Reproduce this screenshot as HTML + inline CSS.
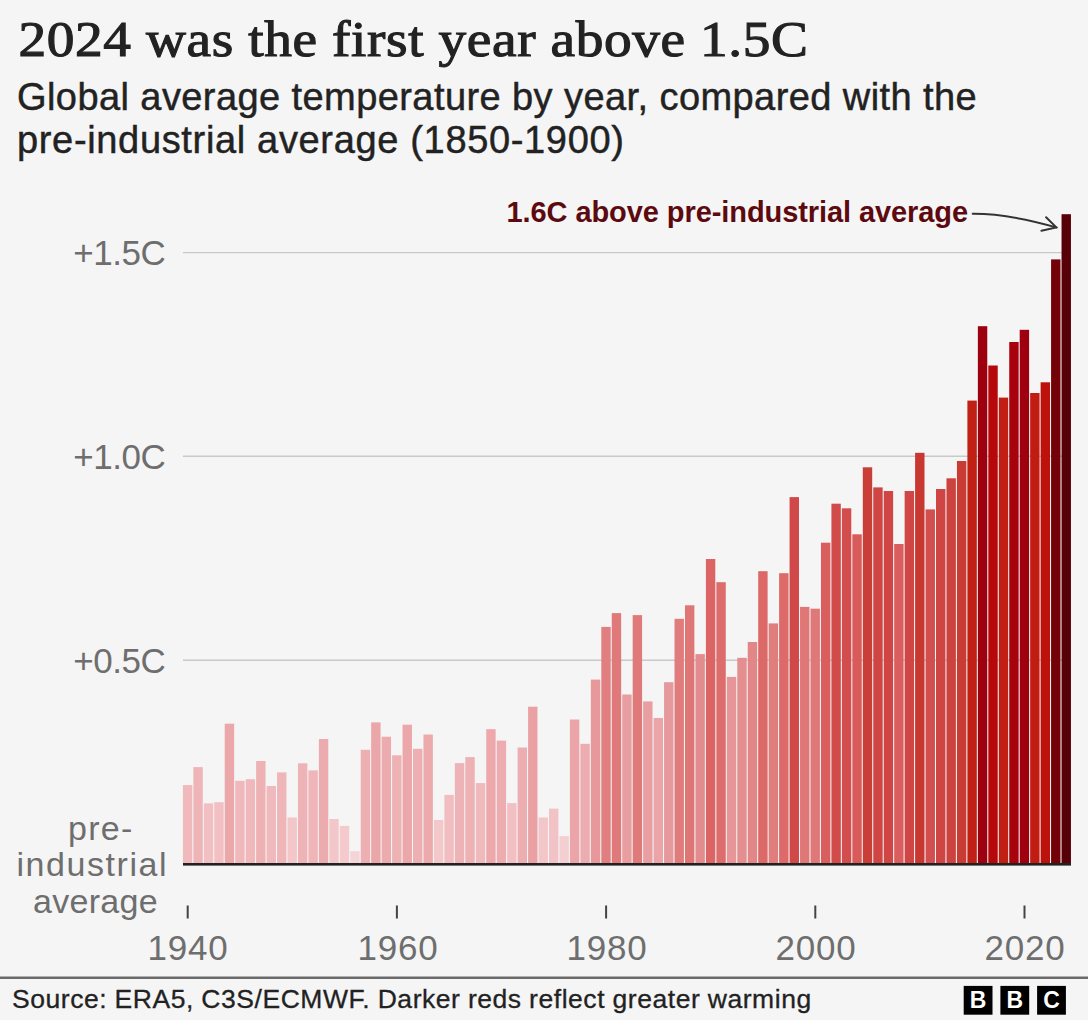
<!DOCTYPE html>
<html><head><meta charset="utf-8"><style>
html,body{margin:0;padding:0;background:#f5f5f5;width:1088px;height:1020px;overflow:hidden}
svg{display:block}
</style></head><body>
<svg width="1088" height="1020" viewBox="0 0 1088 1020">
<rect width="1088" height="1020" fill="#f5f5f5"/>
<text transform="translate(18.5,55.8) scale(1.085,1)" x="0" y="0" style="font-family:'Liberation Serif',serif;font-size:51px;letter-spacing:0.55px" fill="#222" stroke="#222" stroke-width="1.1">2024 was the first year above 1.5C</text>
<text x="17" y="110" style="font-family:'Liberation Sans',sans-serif;font-size:38px;letter-spacing:0.42px" fill="#222" stroke="#222" stroke-width="0.45">Global average temperature by year, compared with the</text>
<text x="17" y="153" style="font-family:'Liberation Sans',sans-serif;font-size:38px;letter-spacing:0.66px" fill="#222" stroke="#222" stroke-width="0.45">pre-industrial average (1850-1900)</text>
<g stroke="#c9c9c9" stroke-width="1.4">
<line x1="183" y1="252.6" x2="1071" y2="252.6"/>
<line x1="183" y1="456.2" x2="1071" y2="456.2"/>
<line x1="183" y1="660.2" x2="1071" y2="660.2"/>
</g>
<g style="font-family:'Liberation Sans',sans-serif;font-size:35px;letter-spacing:-0.4px" fill="#6e6e6e" text-anchor="end">
<text x="165.5" y="264.8">+1.5C</text>
<text x="165.5" y="468.6">+1.0C</text>
<text x="165.5" y="672.7">+0.5C</text>
</g>
<g style="font-family:'Liberation Sans',sans-serif;font-size:34px" fill="#6e6e6e">
<text x="68" y="839.8" style="letter-spacing:1.3px">pre-</text>
<text x="16.5" y="876.4" style="letter-spacing:1.55px">industrial</text>
<text x="33" y="913" style="letter-spacing:0.3px">average</text>
</g>
<rect x="182.90" y="785.1" width="9.4" height="79.4" fill="#f0babd"/>
<rect x="193.36" y="767.1" width="9.4" height="97.4" fill="#efb4b7"/>
<rect x="203.82" y="803.3" width="9.4" height="61.2" fill="#f2c0c3"/>
<rect x="214.28" y="802.2" width="9.4" height="62.3" fill="#f2c0c3"/>
<rect x="224.74" y="723.7" width="9.4" height="140.8" fill="#eba7aa"/>
<rect x="235.20" y="780.8" width="9.4" height="83.7" fill="#f0b8bb"/>
<rect x="245.66" y="779.2" width="9.4" height="85.3" fill="#f0b8bb"/>
<rect x="256.12" y="761.0" width="9.4" height="103.5" fill="#eeb2b5"/>
<rect x="266.58" y="786.0" width="9.4" height="78.5" fill="#f0babd"/>
<rect x="277.04" y="772.4" width="9.4" height="92.1" fill="#efb6b9"/>
<rect x="287.50" y="817.5" width="9.4" height="47.0" fill="#f3c6c9"/>
<rect x="297.96" y="763.3" width="9.4" height="101.2" fill="#eeb3b6"/>
<rect x="308.42" y="770.4" width="9.4" height="94.1" fill="#efb5b8"/>
<rect x="318.88" y="739.0" width="9.4" height="125.5" fill="#ecabae"/>
<rect x="329.34" y="819.0" width="9.4" height="45.5" fill="#f3c7ca"/>
<rect x="339.80" y="825.9" width="9.4" height="38.6" fill="#f4cacd"/>
<rect x="350.26" y="851.2" width="9.4" height="13.3" fill="#f5d4d7"/>
<rect x="360.72" y="749.8" width="9.4" height="114.7" fill="#edafb2"/>
<rect x="371.18" y="722.4" width="9.4" height="142.1" fill="#eba6a9"/>
<rect x="381.64" y="736.7" width="9.4" height="127.8" fill="#ecabae"/>
<rect x="392.10" y="755.3" width="9.4" height="109.2" fill="#eeb1b4"/>
<rect x="402.56" y="724.7" width="9.4" height="139.8" fill="#eba7aa"/>
<rect x="413.02" y="748.8" width="9.4" height="115.7" fill="#edafb2"/>
<rect x="423.48" y="734.5" width="9.4" height="130.0" fill="#ecaaad"/>
<rect x="433.94" y="820.0" width="9.4" height="44.5" fill="#f3c8cb"/>
<rect x="444.40" y="794.9" width="9.4" height="69.6" fill="#f1bdc0"/>
<rect x="454.86" y="763.1" width="9.4" height="101.4" fill="#eeb3b6"/>
<rect x="465.32" y="757.1" width="9.4" height="107.4" fill="#eeb1b4"/>
<rect x="475.78" y="783.1" width="9.4" height="81.4" fill="#f0b9bc"/>
<rect x="486.24" y="729.2" width="9.4" height="135.3" fill="#eca8ab"/>
<rect x="496.70" y="740.6" width="9.4" height="123.9" fill="#edacaf"/>
<rect x="507.16" y="803.1" width="9.4" height="61.4" fill="#f2c0c3"/>
<rect x="517.62" y="747.5" width="9.4" height="117.0" fill="#edaeb1"/>
<rect x="528.08" y="706.7" width="9.4" height="157.8" fill="#e9a1a4"/>
<rect x="538.54" y="817.5" width="9.4" height="47.0" fill="#f3c6c9"/>
<rect x="549.00" y="808.6" width="9.4" height="55.9" fill="#f2c3c6"/>
<rect x="559.46" y="836.1" width="9.4" height="28.4" fill="#f4cfd2"/>
<rect x="569.92" y="719.5" width="9.4" height="145.0" fill="#eba5a8"/>
<rect x="580.38" y="743.8" width="9.4" height="120.7" fill="#edadb0"/>
<rect x="590.84" y="679.6" width="9.4" height="184.9" fill="#e6989b"/>
<rect x="601.30" y="626.9" width="9.4" height="237.6" fill="#e17f80"/>
<rect x="611.76" y="613.1" width="9.4" height="251.4" fill="#e07979"/>
<rect x="622.22" y="694.5" width="9.4" height="170.0" fill="#e89da0"/>
<rect x="632.68" y="615.1" width="9.4" height="249.4" fill="#e07a7a"/>
<rect x="643.14" y="701.4" width="9.4" height="163.1" fill="#e99fa2"/>
<rect x="653.60" y="718.0" width="9.4" height="146.5" fill="#eba5a8"/>
<rect x="664.06" y="682.2" width="9.4" height="182.3" fill="#e6999c"/>
<rect x="674.52" y="618.8" width="9.4" height="245.7" fill="#e07c7c"/>
<rect x="684.98" y="605.3" width="9.4" height="259.2" fill="#df7676"/>
<rect x="695.44" y="654.1" width="9.4" height="210.4" fill="#e38c8e"/>
<rect x="705.90" y="559.0" width="9.4" height="305.5" fill="#dc6464"/>
<rect x="716.36" y="582.2" width="9.4" height="282.3" fill="#dd6c6c"/>
<rect x="726.82" y="676.9" width="9.4" height="187.6" fill="#e69699"/>
<rect x="737.28" y="657.8" width="9.4" height="206.7" fill="#e48e8f"/>
<rect x="747.74" y="642.0" width="9.4" height="222.5" fill="#e28687"/>
<rect x="758.20" y="571.2" width="9.4" height="293.3" fill="#dc6868"/>
<rect x="768.66" y="623.4" width="9.4" height="241.1" fill="#e07e7e"/>
<rect x="779.12" y="573.2" width="9.4" height="291.3" fill="#dd6969"/>
<rect x="789.58" y="497.1" width="9.4" height="367.4" fill="#d04848"/>
<rect x="800.04" y="606.9" width="9.4" height="257.6" fill="#df7777"/>
<rect x="810.50" y="608.7" width="9.4" height="255.8" fill="#df7878"/>
<rect x="820.96" y="542.7" width="9.4" height="321.8" fill="#da5e5e"/>
<rect x="831.42" y="503.7" width="9.4" height="360.8" fill="#d24b4b"/>
<rect x="841.88" y="508.3" width="9.4" height="356.2" fill="#d34d4d"/>
<rect x="852.34" y="534.3" width="9.4" height="330.2" fill="#d95a5a"/>
<rect x="862.80" y="467.3" width="9.4" height="397.2" fill="#ca3e38"/>
<rect x="873.26" y="487.4" width="9.4" height="377.1" fill="#ce4543"/>
<rect x="883.72" y="491.0" width="9.4" height="373.5" fill="#cf4645"/>
<rect x="894.18" y="544.0" width="9.4" height="320.5" fill="#da5e5e"/>
<rect x="904.64" y="491.0" width="9.4" height="373.5" fill="#cf4645"/>
<rect x="915.10" y="452.8" width="9.4" height="411.7" fill="#c83830"/>
<rect x="925.56" y="509.4" width="9.4" height="355.1" fill="#d34e4e"/>
<rect x="936.02" y="489.0" width="9.4" height="375.5" fill="#ce4544"/>
<rect x="946.48" y="478.3" width="9.4" height="386.2" fill="#cc423e"/>
<rect x="956.94" y="461.0" width="9.4" height="403.5" fill="#c93c34"/>
<rect x="967.40" y="400.6" width="9.4" height="463.9" fill="#c12015"/>
<rect x="977.86" y="326.2" width="9.4" height="538.3" fill="#9d000f"/>
<rect x="988.32" y="365.5" width="9.4" height="499.0" fill="#b6080a"/>
<rect x="998.78" y="397.6" width="9.4" height="466.9" fill="#c01f13"/>
<rect x="1009.24" y="342.0" width="9.4" height="522.5" fill="#a7020e"/>
<rect x="1019.70" y="329.8" width="9.4" height="534.7" fill="#9f0010"/>
<rect x="1030.16" y="393.0" width="9.4" height="471.5" fill="#c01c11"/>
<rect x="1040.62" y="382.3" width="9.4" height="482.2" fill="#bd110c"/>
<rect x="1051.08" y="259.4" width="9.4" height="605.1" fill="#740008"/>
<rect x="1061.54" y="214.2" width="9.4" height="650.3" fill="#570008"/>
<rect x="183" y="863" width="888" height="2.6" fill="#222"/>
<g fill="#444">
<rect x="186.7" y="905.5" width="2" height="13"/>
<rect x="395.9" y="905.5" width="2" height="13"/>
<rect x="605.1" y="905.5" width="2" height="13"/>
<rect x="814.3" y="905.5" width="2" height="13"/>
<rect x="1023.5" y="905.5" width="2" height="13"/>
</g>
<g style="font-family:'Liberation Sans',sans-serif;font-size:35px;letter-spacing:0.8px" fill="#6e6e6e" text-anchor="middle">
<text x="188" y="960.3">1940</text>
<text x="398" y="960.3">1960</text>
<text x="607" y="960.3">1980</text>
<text x="816" y="960.3">2000</text>
<text x="1025" y="960.3">2020</text>
</g>
<text x="506.5" y="221.8" style="font-family:'Liberation Sans',sans-serif;font-weight:bold;font-size:29px;letter-spacing:-0.08px" fill="#5c0a10">1.6C above pre-industrial average</text>
<g fill="none" stroke="#333" stroke-width="2" stroke-linecap="round">
<path d="M972.7 213.8 Q1008 213.6 1056.3 227.4"/>
<path d="M1046.1 217.2 L1056.3 227.4 L1041.4 230.8"/>
</g>
<rect x="0" y="976.5" width="1088" height="2.5" fill="#6a6a6a"/>
<text x="12" y="1008.2" style="font-family:'Liberation Sans',sans-serif;font-size:26.5px;letter-spacing:0.55px;word-spacing:-0.5px" fill="#222" stroke="#222" stroke-width="0.3">Source: ERA5, C3S/ECMWF. Darker reds reflect greater warming</text>
<g fill="#000">
<rect x="963.7" y="985.9" width="28.8" height="28.8"/>
<rect x="1000.4" y="985.9" width="28.8" height="28.8"/>
<rect x="1037.1" y="985.9" width="28.8" height="28.8"/>
</g>
<g style="font-family:'Liberation Sans',sans-serif;font-weight:bold;font-size:23px" fill="#fff" text-anchor="middle">
<text x="978.1" y="1008.3">B</text>
<text x="1014.8" y="1008.3">B</text>
<text x="1051.5" y="1008.3">C</text>
</g>
</svg>
</body></html>
